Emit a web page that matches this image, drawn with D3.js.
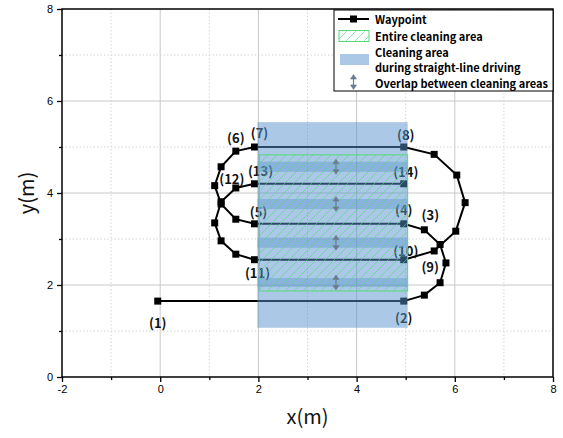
<!DOCTYPE html>
<html><head><meta charset="utf-8">
<script src="https://cdn.jsdelivr.net/npm/d3@7"></script>
<style>body{margin:0;background:#fff;} svg{display:block;}</style>
</head><body>
<svg id="c" width="563" height="438"></svg>
<script>
// ---- data ----
const xTicks = [-2, 0, 2, 4, 6, 8];
const xMinor = [-1, 1, 3, 5, 7];
const yTicks = [0, 2, 4, 6, 8];
const yMinor = [1, 3, 5, 7];

const pathX = [-0.05, 4.96, 5.38, 5.70, 5.82, 5.70, 5.38, 4.96, 1.92, 1.54, 1.24, 1.11, 1.24, 1.54, 1.92,
               4.96, 5.58, 6.04, 6.21, 6.02, 5.58, 4.96, 1.92, 1.54, 1.24, 1.11, 1.24, 1.54, 1.92, 4.96];
const pathY = [1.65, 1.65, 1.78, 2.05, 2.48, 2.88, 3.20, 3.33, 3.33, 3.43, 3.76, 4.16, 4.57, 4.91, 5.00,
               5.00, 4.84, 4.39, 3.79, 3.17, 2.74, 2.55, 2.55, 2.67, 2.96, 3.35, 3.81, 4.11, 4.20, 4.20];

const labelNames = ["(1)","(2)","(3)","(4)","(5)","(6)","(7)","(8)","(9)","(10)","(11)","(12)","(13)","(14)"];
const labelIndex = [0, 1, 6, 7, 8, 13, 14, 15, 20, 21, 22, 27, 28, 29];

const stripX = [1.98, 5.04];   // cleaning area during straight-line driving
const stripY = [1.07, 5.54];
const entireX = [2.02, 5.04];  // entire cleaning area
const entireY = [1.87, 4.83];
const overlapLo = [4.46, 3.65, 2.81, 1.96];
const overlapHi = [4.68, 3.87, 3.03, 2.15];
const overlapArrowX = 3.58;

const legendLabels = ["Waypoint", "Entire cleaning area", "Cleaning area", "during straight-line driving", "Overlap between cleaning areas"];

// ---- layout / style ----
const labelOffsets = [[0,21],[0,16],[6,-15],[0,-14],[4,-12],[0,-14],[5,-15],[2,-13],[-4,16],[2,-9],[3,13],[-4,-9],[6,-13],[2,-12]];
const L = 62, R = 553, T = 9, B = 377;
const blue = "rgb(88,147,206)";
const green = "#55d97a";

const svg = d3.select("#c");
const x = d3.scaleLinear().domain([-2, 8]).range([L, R]);
const y = d3.scaleLinear().domain([0, 8]).range([B, T]);

const defs = svg.append("defs");
const pat = defs.append("pattern").attr("id", "hatch").attr("patternUnits", "userSpaceOnUse")
  .attr("width", 9).attr("height", 9);
pat.append("path").attr("d", "M-2,11 L11,-2 M-2,2 L2,-2 M7,11 L11,7")
  .attr("stroke", "#4fd67a").attr("stroke-width", 0.7).attr("stroke-opacity", 0.85).attr("fill", "none");

// grid
const g = svg.append("g");
g.selectAll("line.gx").data(xTicks.filter(d => d > -2 && d < 8)).join("line")
  .attr("x1", d => x(d)).attr("x2", d => x(d)).attr("y1", T).attr("y2", B)
  .attr("stroke", "#c8c8c8").attr("stroke-width", 1);
g.selectAll("line.gxm").data(xMinor).join("line")
  .attr("x1", d => x(d)).attr("x2", d => x(d)).attr("y1", T).attr("y2", B)
  .attr("stroke", "#d4d4d4").attr("stroke-width", 1).attr("stroke-dasharray", "1.5,2");
g.selectAll("line.gy").data(yTicks.filter(d => d > 0 && d < 8)).join("line")
  .attr("y1", d => y(d)).attr("y2", d => y(d)).attr("x1", L).attr("x2", R)
  .attr("stroke", "#c8c8c8").attr("stroke-width", 1);
g.selectAll("line.gym").data(yMinor).join("line")
  .attr("y1", d => y(d)).attr("y2", d => y(d)).attr("x1", L).attr("x2", R)
  .attr("stroke", "#d4d4d4").attr("stroke-width", 1).attr("stroke-dasharray", "1.5,2");

// path
const pts = pathX.map((v, i) => [v, pathY[i]]);
svg.append("path").datum(pts)
  .attr("d", d3.line().x(d => x(d[0])).y(d => y(d[1])))
  .attr("fill", "none").attr("stroke", "#000").attr("stroke-width", 2);
svg.selectAll("rect.m").data(pts).join("rect")
  .attr("x", d => x(d[0]) - 3.5).attr("y", d => y(d[1]) - 3.5)
  .attr("width", 7).attr("height", 7).attr("fill", "#000");

// labels
svg.selectAll("text.wl").data(labelNames).join("text")
  .attr("x", (d, i) => x(pathX[labelIndex[i]]) + labelOffsets[i][0])
  .attr("y", (d, i) => y(pathY[labelIndex[i]]) + labelOffsets[i][1])
  .attr("text-anchor", "middle").attr("dominant-baseline", "central")
  .attr("font-family", "'Noto Sans CJK KR','Noto Sans',sans-serif").attr("font-weight", "bold")
  .attr("font-size", 13).attr("fill", "#111").text(d => d);

// cleaning area overlay
svg.append("rect")
  .attr("x", x(stripX[0])).attr("width", x(stripX[1]) - x(stripX[0]))
  .attr("y", y(stripY[1])).attr("height", y(stripY[0]) - y(stripY[1]))
  .attr("fill", blue).attr("fill-opacity", 0.5);
svg.selectAll("rect.ov").data(overlapLo).join("rect")
  .attr("x", x(stripX[0])).attr("width", x(stripX[1]) - x(stripX[0]))
  .attr("y", (d, i) => y(overlapHi[i])).attr("height", (d, i) => y(d) - y(overlapHi[i]))
  .attr("fill", blue).attr("fill-opacity", 0.4);
svg.append("rect")
  .attr("x", x(entireX[0])).attr("width", x(entireX[1]) - x(entireX[0]))
  .attr("y", y(entireY[1])).attr("height", y(entireY[0]) - y(entireY[1]))
  .attr("fill", "url(#hatch)").attr("stroke", green).attr("stroke-width", 1);

// overlap arrows
function arrow(sel, cx, cy, col) {
  const a = sel.append("g").attr("fill", col).attr("stroke", col);
  a.append("line").attr("x1", cx).attr("x2", cx).attr("y1", cy - 5).attr("y2", cy + 5).attr("stroke-width", 1.2);
  a.append("path").attr("d", `M${cx - 3},${cy - 3} L${cx},${cy - 7.5} L${cx + 3},${cy - 3} Z`).attr("stroke-width", 0.6);
  a.append("path").attr("d", `M${cx - 3},${cy + 3} L${cx},${cy + 7.5} L${cx + 3},${cy + 3} Z`).attr("stroke-width", 0.6);
}
overlapLo.forEach((lo, i) => arrow(svg, x(overlapArrowX), y((lo + overlapHi[i]) / 2), "#6a7c92"));

// axes
const fontAx = "Arial, 'Liberation Sans', sans-serif";
svg.append("g").attr("transform", `translate(0,${B})`)
  .call(d3.axisBottom(x).tickValues(xTicks).tickSize(5).tickPadding(3).tickFormat(d => String(d)));
svg.append("g").attr("transform", `translate(0,${B})`)
  .call(d3.axisBottom(x).tickValues(xMinor).tickSize(3).tickFormat(""));
svg.append("g").attr("transform", `translate(${L},0)`)
  .call(d3.axisLeft(y).tickValues(yTicks).tickSize(5).tickPadding(4).tickFormat(d => String(d)));
svg.append("g").attr("transform", `translate(${L},0)`)
  .call(d3.axisLeft(y).tickValues(yMinor).tickSize(3).tickFormat(""));
svg.selectAll(".domain").remove();
svg.selectAll(".tick line").attr("stroke", "#000").attr("stroke-width", 1.3);
svg.selectAll(".tick text").attr("font-family", fontAx).attr("font-size", 11).attr("fill", "#000");

// frame
svg.append("rect").attr("x", L).attr("y", T).attr("width", R - L).attr("height", B - T)
  .attr("fill", "none").attr("stroke", "#000").attr("stroke-width", 1.5);

// axis titles
svg.append("text").attr("x", (L + R) / 2).attr("y", 424).attr("text-anchor", "middle")
  .attr("font-family", "'Noto Sans CJK KR','Noto Sans',sans-serif").attr("font-size", 20).attr("fill", "#111").text("x(m)");
svg.append("text").attr("transform", `translate(34,${(T + B) / 2}) rotate(-90)`).attr("text-anchor", "middle")
  .attr("font-family", "'Noto Sans CJK KR','Noto Sans',sans-serif").attr("font-size", 20).attr("fill", "#111").text("y(m)");

// legend
const lg = svg.append("g");
lg.append("rect").attr("x", 334).attr("y", 10).attr("width", 219).attr("height", 81)
  .attr("fill", "#fff").attr("stroke", "#000").attr("stroke-width", 1);
const lf = "'Noto Sans CJK KR','Noto Sans',sans-serif";
lg.append("line").attr("x1", 338).attr("x2", 369).attr("y1", 19).attr("y2", 19).attr("stroke", "#000").attr("stroke-width", 2);
lg.append("rect").attr("x", 350).attr("y", 15.5).attr("width", 7).attr("height", 7).attr("fill", "#000");
lg.append("rect").attr("x", 339).attr("y", 30.5).attr("width", 30).attr("height", 11)
  .attr("fill", "url(#hatch)").attr("stroke", green).attr("stroke-width", 1);
lg.append("rect").attr("x", 340).attr("y", 54).attr("width", 29).attr("height", 11)
  .attr("fill", blue).attr("fill-opacity", 0.5);
arrow(lg, 353.5, 82, "#6a7c92");
const ly = [19, 36, 52, 67, 83];
lg.selectAll("text").data(legendLabels).join("text")
  .attr("x", 375).attr("y", (d, i) => ly[i]).attr("dominant-baseline", "central")
  .attr("font-family", lf).attr("font-weight", "bold").attr("font-size", 11).attr("fill", "#000").text(d => d);
</script>
</body></html>
